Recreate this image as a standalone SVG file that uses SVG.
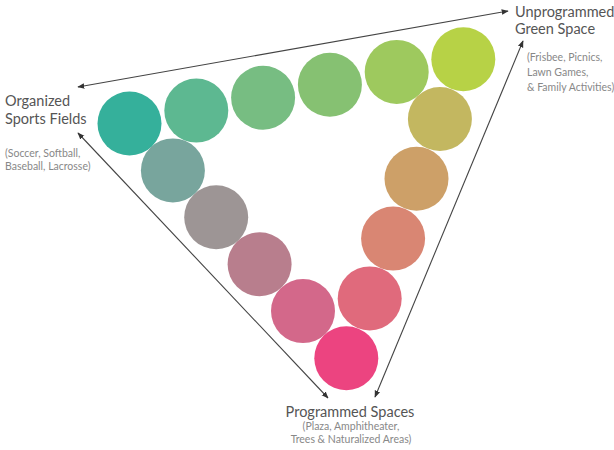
<svg xmlns="http://www.w3.org/2000/svg" width="614" height="450" viewBox="0 0 614 450">
<style>
.c{stroke:none}
.ln{stroke:#444;stroke-width:1.1;fill:none}
.t{font-family:Lato,"Open Sans",sans-serif;fill:#555;font-size:14.5px}
.s{font-family:Lato,"Open Sans",sans-serif;fill:#888;font-size:10.5px}
</style>
<defs>
<marker id="ah" viewBox="0 0 10 10" refX="9" refY="5" markerWidth="7" markerHeight="7" orient="auto-start-reverse" markerUnits="userSpaceOnUse">
<path d="M0,1 L10,5 L0,9 Z" fill="#333"/>
</marker>
</defs>
<rect width="614" height="450" fill="#fff"/>
<g id="connectors">
<line class="ln" x1="78" y1="87" x2="508" y2="11" marker-start="url(#ah)" marker-end="url(#ah)"/>
<line class="ln" x1="78" y1="133" x2="328" y2="398" marker-start="url(#ah)" marker-end="url(#ah)"/>
<line class="ln" x1="523" y1="41" x2="375" y2="397" marker-start="url(#ah)" marker-end="url(#ah)"/>
</g>
<g id="circles">
<circle class="c" cx="129.5" cy="123.5" r="32" fill="#35b09b"/>
<circle class="c" cx="196.3" cy="110.6" r="32" fill="#5db891"/>
<circle class="c" cx="263.1" cy="97.7" r="32" fill="#77bd82"/>
<circle class="c" cx="329.9" cy="84.8" r="32" fill="#86c172"/>
<circle class="c" cx="396.7" cy="71.9" r="32" fill="#9ec95e"/>
<circle class="c" cx="463.3" cy="59.2" r="32" fill="#b7d246"/>
<circle class="c" cx="439.9" cy="119" r="32" fill="#c3b760"/>
<circle class="c" cx="416.5" cy="178.8" r="32" fill="#cda068"/>
<circle class="c" cx="393.1" cy="238.6" r="32" fill="#d98673"/>
<circle class="c" cx="369.7" cy="298.4" r="32" fill="#e06a7c"/>
<circle class="c" cx="346.3" cy="358.2" r="32" fill="#ec4480"/>
<circle class="c" cx="303" cy="311.1" r="32" fill="#d3688a"/>
<circle class="c" cx="259.6" cy="264.2" r="32" fill="#b87e8d"/>
<circle class="c" cx="216.2" cy="217.3" r="32" fill="#9d9595"/>
<circle class="c" cx="172.9" cy="170.4" r="32" fill="#78a59d"/>
</g>
<g id="organized-sports-fields">
<text class="t" x="5" y="106">Organized</text>
<text class="t" x="5" y="124">Sports Fields</text>
<text class="s" x="5" y="157">(Soccer, Softball,</text>
<text class="s" x="5" y="170">Baseball, Lacrosse)</text>
</g>
<g id="unprogrammed-green-space">
<text class="t" x="515" y="17">Unprogrammed</text>
<text class="t" x="515" y="34">Green Space</text>
<text class="s" x="527" y="61">(Frisbee, Picnics,</text>
<text class="s" x="527" y="76">Lawn Games,</text>
<text class="s" x="527" y="91">&amp; Family Activities)</text>
</g>
<g id="programmed-spaces">
<text class="t" x="350" y="417" text-anchor="middle">Programmed Spaces</text>
<text class="s" x="351" y="430" text-anchor="middle">(Plaza, Amphitheater,</text>
<text class="s" x="351" y="443" text-anchor="middle">Trees &amp; Naturalized Areas)</text>
</g>
</svg>
